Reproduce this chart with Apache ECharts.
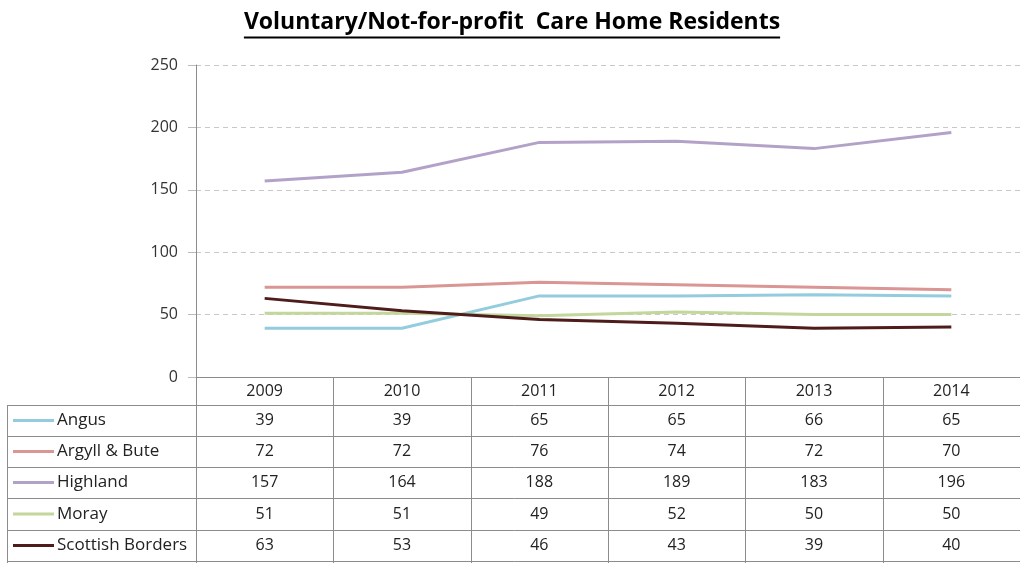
<!DOCTYPE html>
<html>
<head>
<meta charset="utf-8">
<script src="https://cdn.jsdelivr.net/npm/echarts@6/dist/echarts.min.js"></script>
<style>
  html, body { margin: 0; padding: 0; background: #fff; }
  #chart { width: 1020px; height: 563px; }
</style>
</head>
<body>
<div id="chart"></div>
<script>
// Residents in voluntary / not-for-profit care homes, by council area
const years = ['2009', '2010', '2011', '2012', '2013', '2014'];
const areaNames = ['Angus', 'Argyll & Bute', 'Highland', 'Moray', 'Scottish Borders'];
const angus = [39, 39, 65, 65, 66, 65];
const argyllBute = [72, 72, 76, 74, 72, 70];
const highland = [157, 164, 188, 189, 183, 196];
const moray = [51, 51, 49, 52, 50, 50];
const scottishBorders = [63, 53, 46, 43, 39, 40];
const yTicks = [0, 50, 100, 150, 200, 250];

const areaValues = [angus, argyllBute, highland, moray, scottishBorders];
const areaColors = ['#93cddd', '#d99694', '#b3a2c7', '#c3d69b', '#4f1c1c'];

const FONT = 'Open Sans';
const GRID_LEFT = 196, GRID_TOP = 65, AXIS_Y = 377;
const GRID_WIDTH = 834;
const ROW_EDGES = [405, 436, 467, 498, 530, 561];
const LINE_GRAY = '#8c8c8c';
const TITLE = 'Voluntary/Not-for-profit  Care Home Residents';

const chart = echarts.init(document.getElementById('chart'));

chart.setOption({
  animation: false,
  grid: { left: GRID_LEFT, top: GRID_TOP, width: GRID_WIDTH, height: AXIS_Y - GRID_TOP },
  xAxis: {
    type: 'category',
    data: years,
    boundaryGap: true,
    axisLine: { lineStyle: { color: LINE_GRAY, width: 1 } },
    axisTick: { show: false },
    axisLabel: { margin: 6, fontFamily: FONT, fontSize: 16, color: '#222' }
  },
  yAxis: {
    type: 'value',
    min: yTicks[0],
    max: yTicks[yTicks.length - 1],
    interval: yTicks[1] - yTicks[0],
    axisLine: { show: true, lineStyle: { color: LINE_GRAY, width: 1 } },
    axisTick: { show: true, length: 8, lineStyle: { color: '#bbbbbb' } },
    axisLabel: { margin: 18, fontFamily: FONT, fontSize: 16, color: '#333' },
    splitLine: { lineStyle: { color: '#c8c8c8', type: [5, 4], width: 1 } }
  },
  series: areaNames.map((name, i) => ({
    name: name,
    type: 'line',
    data: areaValues[i],
    symbol: 'none',
    smooth: false,
    lineStyle: { color: areaColors[i], width: 3 },
    z: 3
  }))
});

// Build the data table under the plot from the same arrays
function buildTable() {
  const x0 = chart.convertToPixel({ xAxisIndex: 0 }, 0);
  const x1 = chart.convertToPixel({ xAxisIndex: 0 }, 1);
  const band = x1 - x0;
  const right = GRID_LEFT + GRID_WIDTH;
  const bottom = 563;
  const els = [];
  const line = (xa, ya, xb, yb) => els.push({
    type: 'line', silent: true,
    shape: { x1: xa, y1: ya, x2: xb, y2: yb },
    style: { stroke: LINE_GRAY, lineWidth: 1 }
  });

  // column dividers
  for (let c = 0; c <= years.length; c++) {
    const x = Math.round(x0 - band / 2 + c * band) + 0.5;
    line(x, AXIS_Y, x, bottom);
  }
  // left border of the series name column
  line(7.5, ROW_EDGES[0], 7.5, bottom);
  // row separators
  ROW_EDGES.forEach(y => line(7.5, y + 0.5, right, y + 0.5));

  areaNames.forEach((name, r) => {
    const cy = (ROW_EDGES[r] + ROW_EDGES[r + 1]) / 2;
    els.push({
      type: 'line', silent: true,
      shape: { x1: 13, y1: cy, x2: 54, y2: cy },
      style: { stroke: areaColors[r], lineWidth: 3 }
    });
    els.push({
      type: 'text', silent: true, x: 57, y: cy,
      style: { text: name, font: '17px "' + FONT + '"', fill: '#222', verticalAlign: 'middle', align: 'left' }
    });
    areaValues[r].forEach((v, c) => {
      els.push({
        type: 'text', silent: true,
        x: chart.convertToPixel({ xAxisIndex: 0 }, c), y: cy,
        style: { text: String(v), font: '16px "' + FONT + '"', fill: '#222', align: 'center', verticalAlign: 'middle' }
      });
    });
  });

  // underlined title
  const titleFont = 'bold 23px "' + FONT + '"';
  const ctx = document.createElement('canvas').getContext('2d');
  ctx.font = titleFont;
  const tw = ctx.measureText(TITLE).width;
  const tx = 512;
  els.push({
    type: 'text', silent: true, x: tx, y: 22,
    style: { text: TITLE, font: titleFont, fill: '#000', align: 'center', verticalAlign: 'middle' }
  });
  els.push({
    type: 'line', silent: true,
    shape: { x1: tx - tw / 2, y1: 37.5, x2: tx + tw / 2, y2: 37.5 },
    style: { stroke: '#000', lineWidth: 2 }
  });

  chart.setOption({ graphic: { elements: els } });
}

if (document.fonts && document.fonts.ready) {
  document.fonts.ready.then(buildTable);
} else {
  buildTable();
}
</script>
</body>
</html>
